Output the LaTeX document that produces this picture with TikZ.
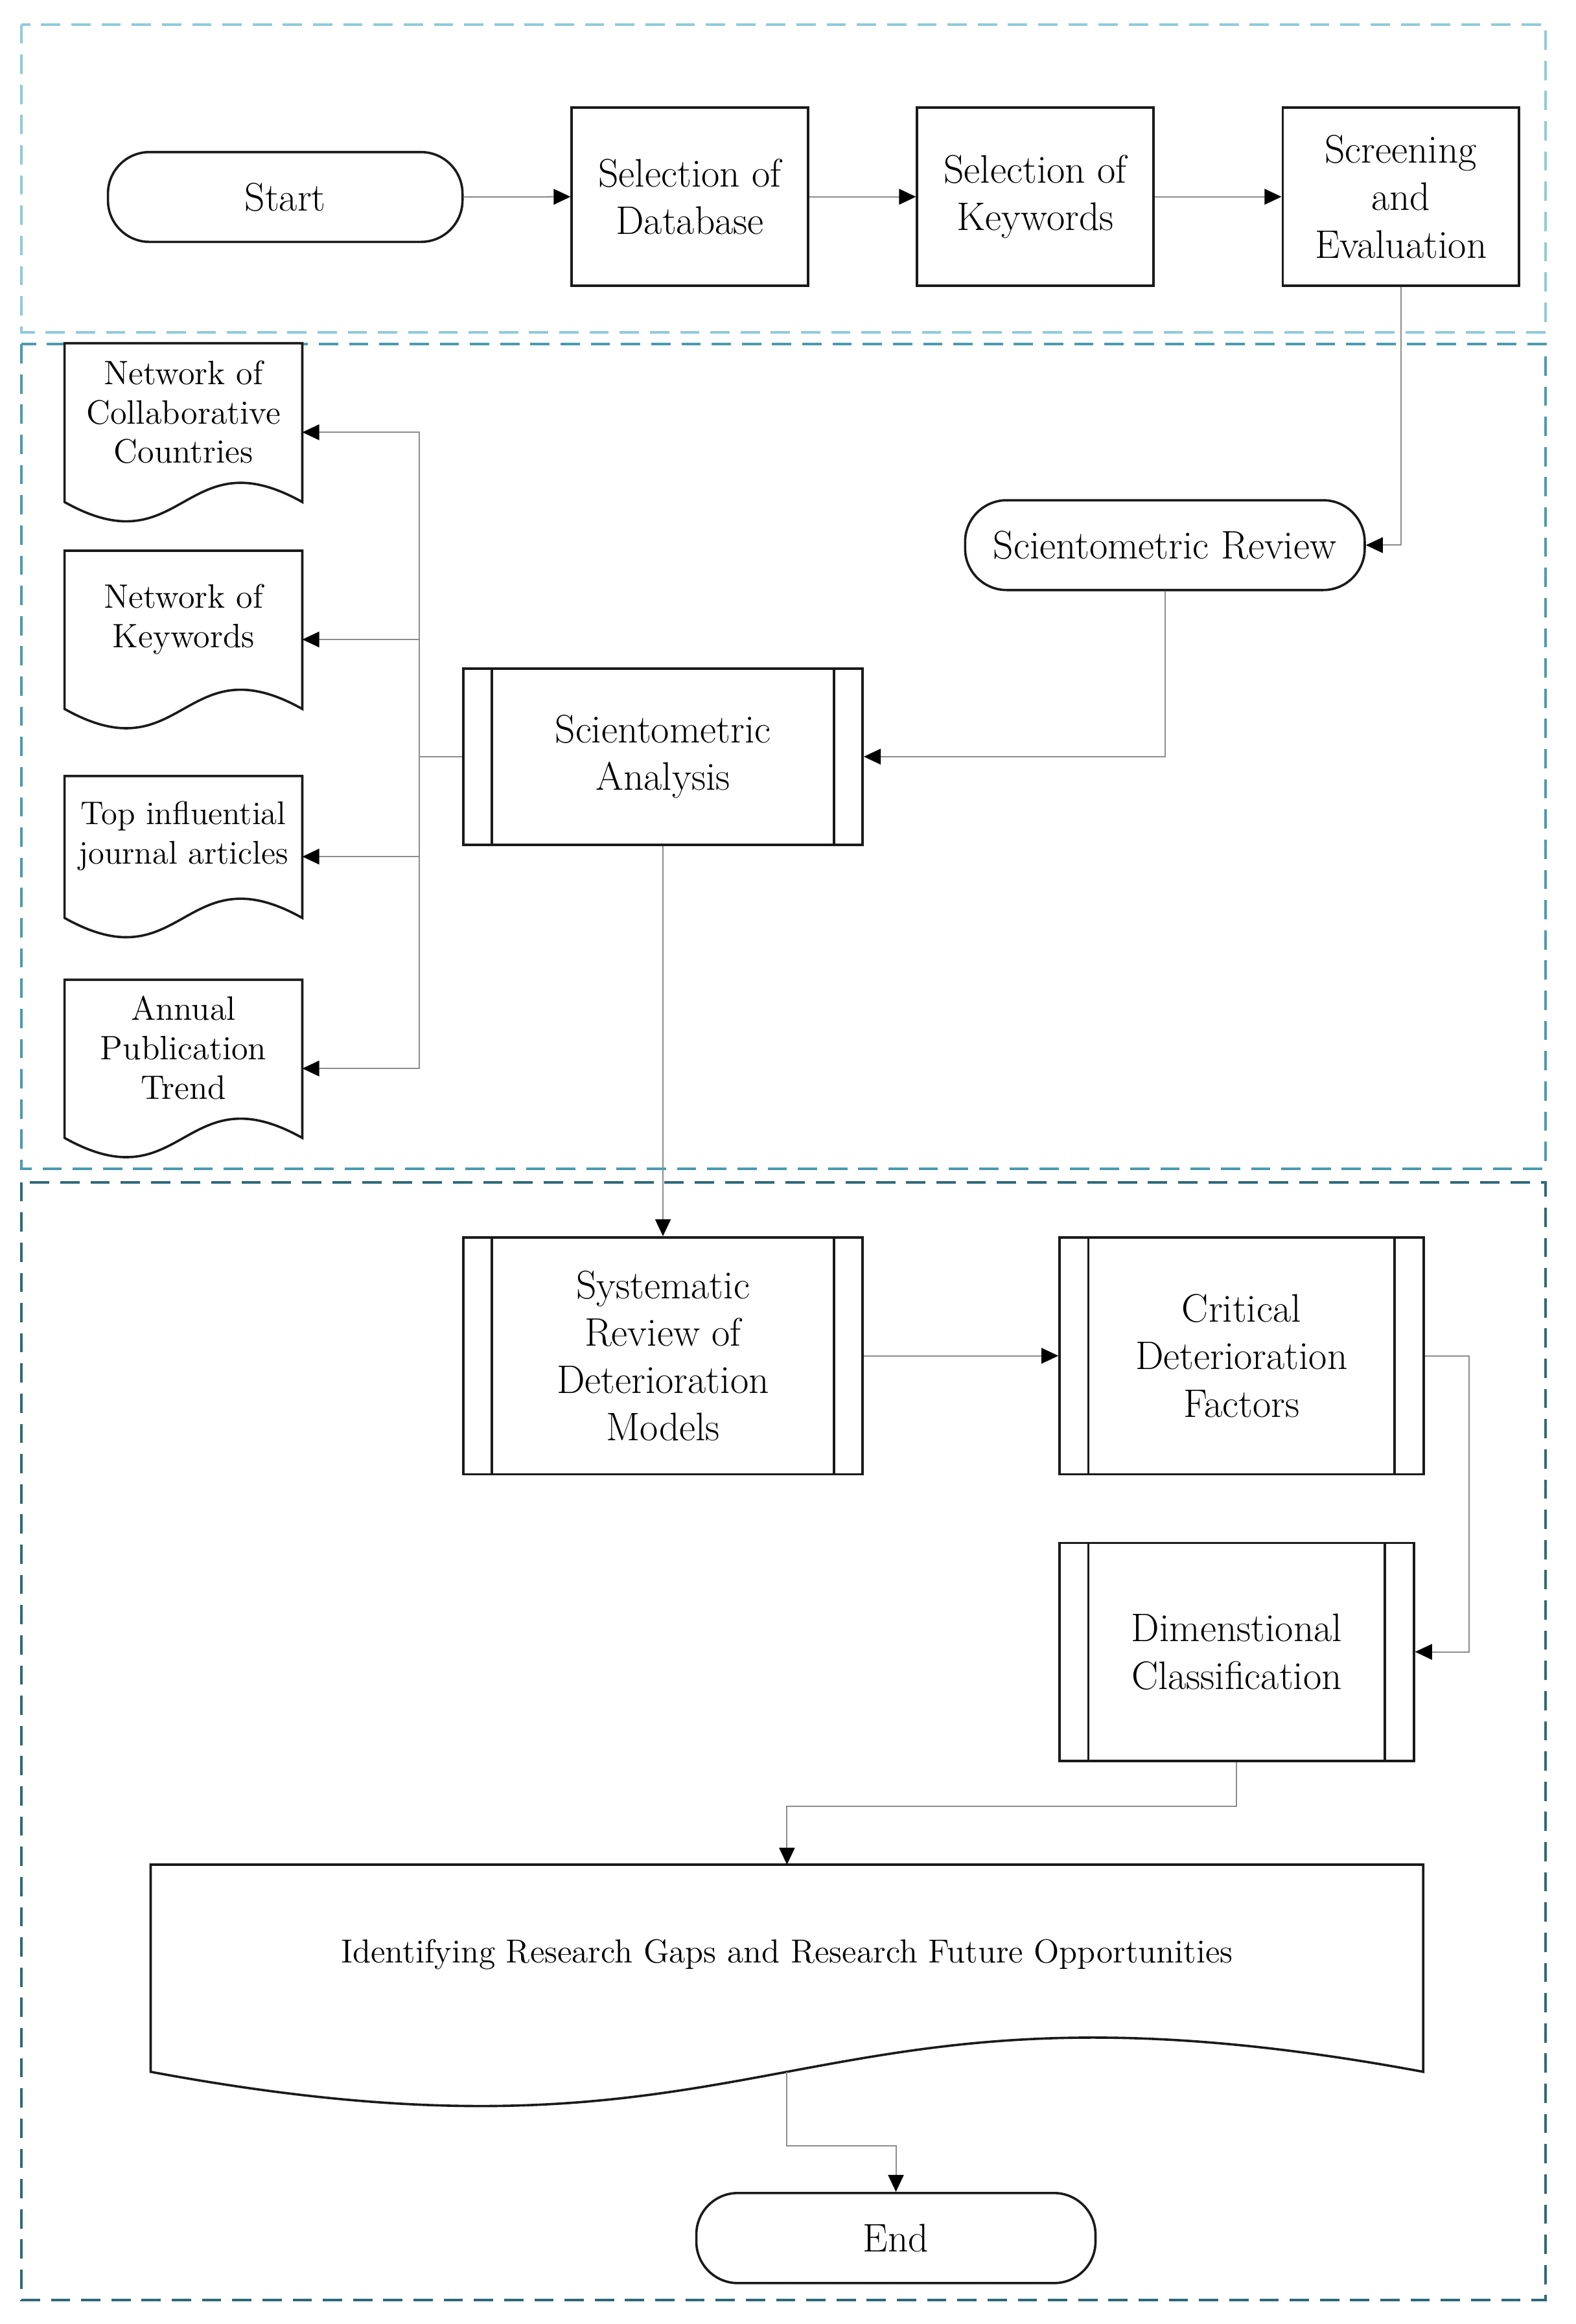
\documentclass[tikz,border=0pt]{standalone}
\usetikzlibrary{arrows.meta,calc}
\definecolor{fone}{HTML}{8FCBDA}
\definecolor{ftwo}{HTML}{4A9BB0}
\definecolor{fthree}{HTML}{2E6A7A}
\definecolor{conn}{HTML}{8C8C8C}
\definecolor{edgec}{HTML}{1A1A1A}
\newcommand\mainfs{\fontsize{15.3}{18.2}\selectfont}
\newcommand\docfs{\fontsize{13}{15.1}\selectfont}
\newcommand\docsfs{\fontsize{12.6}{15.1}\selectfont}
\newcommand\bigfs{\fontsize{12.8}{15}\selectfont}
\newcommand\predlines[2]{\draw[edgec,line width=0.9pt] ($(#1.north west)+(#2,0)$) -- ($(#1.south west)+(#2,0)$) ($(#1.north east)+(-#2,0)$) -- ($(#1.south east)+(-#2,0)$);}
\newcommand\docpath[3]{\draw[shp] (#1.north west) -- (#1.north east) -- ($(#1.south east)+(0,-#2)$) .. controls ($(#1.south)+(0,-#2-#3)$) and ($(#1.south)+(0,#3-#2)$) .. ($(#1.south west)+(0,-#2)$) -- cycle;}
\begin{document}
\begin{tikzpicture}[x=0.02cm,y=-0.02cm,
  frame/.style={dash pattern=on 7.4pt off 4.2pt, line width=1pt},
  shp/.style={draw=edgec, line width=0.9pt, fill=white},
  proc/.style={shp, rectangle, minimum width=3.19cm, minimum height=2.406cm, inner sep=0pt, align=center, font=\mainfs},
  term/.style={shp, rectangle, rounded corners=0.56cm, minimum height=1.212cm, inner sep=0pt, align=center, font=\mainfs},
  pred/.style={shp, rectangle, inner sep=0pt, align=center, font=\mainfs},
  docn/.style={rectangle, draw=none, inner sep=0pt, minimum width=3.194cm},
  doct/.style={align=center, font=\docfs, inner sep=0pt},
  arr/.style={draw=conn, line width=0.5pt, -{Triangle[length=6.5pt,width=6pt,color=black]}},
  link/.style={draw=conn, line width=0.5pt}
]
\fill[white] (0,0) rectangle (1063,1568);
\useasboundingbox (0,0) rectangle (1063,1568);

% frames
\draw[frame, fone] (14.6,16.4) rectangle (1042.5,224.4);
\draw[frame, ftwo] (14.3,232.2) rectangle (1042.5,788.5);
\draw[frame, fthree] (14.3,797.6) rectangle (1042.5,1552);

% top row
\node[term, minimum width=4.784cm] (start) at (192.4,132.9) {Start};
\node[proc] (seldb) at (465.4,132.75) {Selection of\\Database};
\node[proc] (selkw) at (698.4,132.75) {Selection of\\Keywords};
\node[proc] (screen) at (944.95,132.75) {Screening\\and\\Evaluation};

% scientometric part
\node[term, minimum width=5.392cm] (scirev) at (785.8,367.8) {Scientometric Review};
\node[pred, minimum width=5.388cm, minimum height=2.38cm] (sa) at (447.2,510.5) {Scientometric\\Analysis};
\predlines{sa}{20}

% documents
\node[docn, minimum height=2.39cm] (doc1) at (123.75,291.65) {};
\node[docn, minimum height=2.382cm] (doc2) at (123.75,431.45) {};
\node[docn, minimum height=2.162cm] (doc3) at (123.75,577.95) {};
\node[docn, minimum height=2.38cm] (doc4) at (123.75,720.9) {};
\docpath{doc1}{13}{45}
\docpath{doc2}{13}{45}
\docpath{doc3}{13}{45}
\docpath{doc4}{13}{45}
\node[doct] (doc1t) at ($(doc1.center)+(0,-13.5)$) {Network of\\Collaborative\\Countries};
\node[doct] (doc2t) at ($(doc2.center)+(0,-13.5)$) {Network of\\Keywords};
\node[doct, font=\docsfs] (doc3t) at ($(doc3.center)+(0,-14)$) {Top influential\\journal articles};
\node[doct] (doc4t) at ($(doc4.center)+(0,-14)$) {Annual\\Publication\\Trend};

% systematic part
\node[pred, minimum width=5.388cm, minimum height=3.198cm] (sr) at (447.2,914.75) {Systematic\\Review of\\Deterioration\\Models};
\predlines{sr}{20}
\node[pred, minimum width=4.912cm, minimum height=3.198cm] (cdf) at (837.5,914.75) {Critical\\Deterioration\\Factors};
\predlines{cdf}{20.3}
\node[pred, minimum width=4.782cm, minimum height=2.94cm] (dc) at (834.25,1114.5) {Dimenstional\\Classification};
\predlines{dc}{20.3}

\node[docn, minimum width=17.158cm, minimum height=3.222cm] (bigdoc) at (530.85,1338.95) {};
\docpath{bigdoc}{22}{80}
\node[doct, font=\bigfs] (bigdoct) at (530.85,1318.7) {Identifying Research Gaps and Research Future Opportunities};
\coordinate (bdexit) at ($(bigdoc.south)+(0,-22)$);

\node[term, minimum width=5.386cm, minimum height=1.216cm] (end) at (604.35,1510) {End};

% connectors
\draw[arr] (start.east) -- (seldb.west);
\draw[arr] (seldb.east) -- (selkw.west);
\draw[arr] (selkw.east) -- (screen.west);
\draw[arr] (screen.south) |- (scirev.east);
\draw[arr] (scirev.south) |- (sa.east);
\coordinate (bus) at (283,510.5);
\draw[arr] (sa.west) -- (bus) |- (doc1.east);
\draw[arr] (sa.west) -- (bus) |- (doc2.east);
\draw[arr] (sa.west) -- (bus) |- (doc3.east);
\draw[arr] (sa.west) -- (bus) |- (doc4.east);
\draw[arr] (sa.south) -- (sr.north);
\draw[arr] (sr.east) -- (cdf.west);
\draw[arr] (cdf.east) -- ++(29.7,0) |- (dc.east);
\draw[arr] (dc.south) -- ++(0,30) -| (bigdoc.north);
\draw[arr] (bdexit) -- ++(0,50) -| (end.north);
\end{tikzpicture}
\end{document}
